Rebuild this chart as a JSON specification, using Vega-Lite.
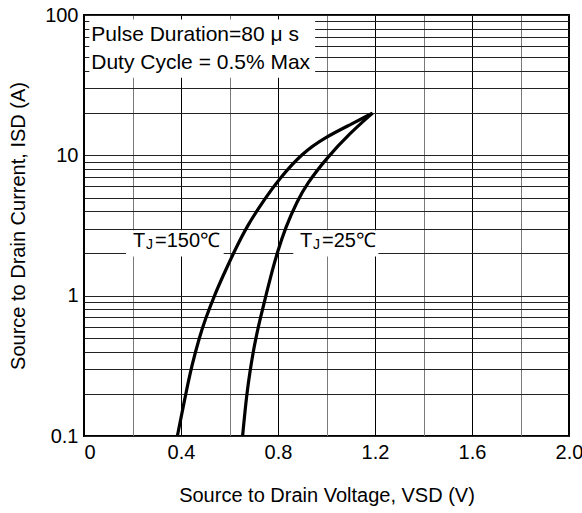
{
  "$schema": "https://vega.github.io/schema/vega-lite/v6.json",
  "width": 485,
  "height": 421,
  "autosize": "none",
  "padding": {"left": 84, "top": 15, "right": 13, "bottom": 77},
  "background": "white",
  "config": {
    "font": "Liberation Sans",
    "view": {"stroke": "#000", "strokeWidth": 2}
  },
  "datasets": {
    "curves": [
      {"series": "150", "v": 0.385, "i": 0.1},
      {"series": "150", "v": 0.421, "i": 0.205},
      {"series": "150", "v": 0.445, "i": 0.32},
      {"series": "150", "v": 0.476, "i": 0.506},
      {"series": "150", "v": 0.499, "i": 0.67},
      {"series": "150", "v": 0.54, "i": 1.03},
      {"series": "150", "v": 0.584, "i": 1.52},
      {"series": "150", "v": 0.623, "i": 2.12},
      {"series": "150", "v": 0.672, "i": 3.14},
      {"series": "150", "v": 0.751, "i": 5.06},
      {"series": "150", "v": 0.802, "i": 6.69},
      {"series": "150", "v": 0.899, "i": 10.4},
      {"series": "150", "v": 1.0, "i": 13.6},
      {"series": "150", "v": 1.097, "i": 16.5},
      {"series": "150", "v": 1.19, "i": 20},
      {"series": "25", "v": 0.654, "i": 0.1},
      {"series": "25", "v": 0.671, "i": 0.2},
      {"series": "25", "v": 0.686, "i": 0.3},
      {"series": "25", "v": 0.698, "i": 0.4},
      {"series": "25", "v": 0.709, "i": 0.5},
      {"series": "25", "v": 0.719, "i": 0.6},
      {"series": "25", "v": 0.728, "i": 0.7},
      {"series": "25", "v": 0.75, "i": 1.0},
      {"series": "25", "v": 0.775, "i": 1.48},
      {"series": "25", "v": 0.796, "i": 2.0},
      {"series": "25", "v": 0.832, "i": 3.1},
      {"series": "25", "v": 0.879, "i": 4.7},
      {"series": "25", "v": 0.917, "i": 6.2},
      {"series": "25", "v": 1.0, "i": 9.55},
      {"series": "25", "v": 1.097, "i": 14.4},
      {"series": "25", "v": 1.19, "i": 20}
    ],
    "boxes": [
      {"v": 0.022, "v2": 0.953, "i": 35.7, "i2": 92.7},
      {"v": 0.173, "v2": 0.576, "i": 1.9, "i2": 2.93},
      {"v": 0.863, "v2": 1.214, "i": 1.9, "i2": 2.93}
    ],
    "notes": [
      {"v": 0.03, "i": 64.9, "t": "Pulse Duration=80 μ s"},
      {"v": 0.03, "i": 41.2, "t": "Duty Cycle = 0.5% Max"}
    ],
    "tj": [
      {"v": 0.202, "i": 2.23, "a": "T", "b": "J", "c": "=150℃"},
      {"v": 0.891, "i": 2.23, "a": "T", "b": "J", "c": "=25℃"}
    ]
  },
  "encoding": {
    "x": {
      "field": "v",
      "type": "quantitative",
      "scale": {"domain": [0, 2], "nice": false, "zero": false},
      "axis": {
        "values": [0, 0.2, 0.4, 0.6, 0.8, 1, 1.2, 1.4, 1.6, 1.8, 2],
        "labelExpr": "round(datum.value*10)%4==0 ? (datum.value==0 ? '0' : format(datum.value,'.1f')) : ''",
        "grid": true,
        "gridColor": {"condition": {"test": "round(datum.value*10)%4==0", "value": "#000"}, "value": "#7a7a7a"},
        "gridWidth": 1,
        "ticks": false,
        "domain": false,
        "labelFontSize": 20,
        "labelColor": "#000",
        "labelPadding": 6,
        "labelFlush": false,
        "labelOverlap": false,
        "labelAlign": {"condition": {"test": "datum.value==0", "value": "left"}, "value": "center"},
        "title": "Source to Drain Voltage, VSD (V)",
        "titleFontSize": 20,
        "titleFontWeight": "normal",
        "titleColor": "#000",
        "titlePadding": 23
      }
    },
    "y": {
      "field": "i",
      "type": "quantitative",
      "scale": {"type": "log", "domain": [0.1, 100], "nice": false},
      "axis": {
        "values": [0.1, 0.2, 0.3, 0.4, 0.5, 0.6, 0.7, 0.8, 0.9, 1, 2, 3, 4, 5, 6, 7, 8, 9, 10, 20, 30, 40, 50, 60, 70, 80, 90, 100],
        "labelExpr": "datum.value==100?'100':datum.value==10?'10':datum.value==1?'1':datum.value==0.1?'0.1':''",
        "grid": true,
        "gridColor": "#222",
        "gridWidth": 1,
        "ticks": false,
        "domain": false,
        "labelFontSize": 20,
        "labelColor": "#000",
        "labelPadding": 6,
        "labelOverlap": false,
        "labelFlush": false,
        "title": "Source to Drain Current, ISD (A)",
        "titleFontSize": 20,
        "titleFontWeight": "normal",
        "titleColor": "#000",
        "titlePadding": 16
      }
    }
  },
  "layer": [
    {
      "data": {"name": "boxes"},
      "mark": {"type": "rect", "fill": "white", "stroke": null},
      "encoding": {
        "x2": {"field": "v2"},
        "y2": {"field": "i2"}
      }
    },
    {
      "data": {"name": "curves"},
      "mark": {"type": "line", "color": "#000", "strokeWidth": 3.2, "interpolate": "basis"},
      "encoding": {
        "detail": {"field": "series", "type": "nominal"}
      }
    },
    {
      "data": {"name": "notes"},
      "mark": {"type": "text", "align": "left", "baseline": "alphabetic", "fontSize": 21, "color": "#000"},
      "encoding": {"text": {"field": "t"}}
    },
    {
      "data": {"name": "tj"},
      "mark": {"type": "text", "align": "left", "baseline": "alphabetic", "fontSize": 20, "color": "#000"},
      "encoding": {"text": {"field": "a"}}
    },
    {
      "data": {"name": "tj"},
      "mark": {"type": "text", "align": "left", "baseline": "alphabetic", "fontSize": 14, "dx": 13, "dy": 2, "color": "#000"},
      "encoding": {"text": {"field": "b"}}
    },
    {
      "data": {"name": "tj"},
      "mark": {"type": "text", "align": "left", "baseline": "alphabetic", "fontSize": 20, "dx": 22, "color": "#000"},
      "encoding": {"text": {"field": "c"}}
    }
  ]
}
